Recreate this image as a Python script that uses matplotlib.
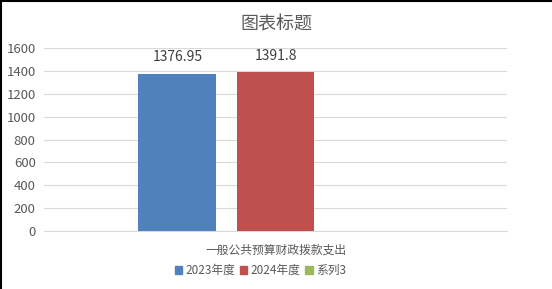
import matplotlib
matplotlib.use("Agg")
from matplotlib import pyplot as plt
from matplotlib.lines import Line2D
import numpy as np

plt.rcParams['font.family'] = ['Noto Sans CJK SC', 'DejaVu Sans']

categories = ['一般公共预算财政拨款支出']
series_names = ['2023年度', '2024年度', '系列3']
series_values = [[1376.95], [1391.8], [0]]
series_colors = ['#4f81bd', '#c0504d', '#9bbb59']
label_texts = ['1376.95', '1391.8', None]

grey = '#595959'

fig = plt.figure(figsize=(5.52, 2.89), dpi=100)
ax = fig.add_axes([0.0797, 0.2007, 0.8388, 0.6332])

x = np.arange(len(categories))
width = 0.168
step = width + 0.044
for i, (name, vals, col) in enumerate(zip(series_names, series_values, series_colors)):
    pos = x + (i - 1) * step
    ax.bar(pos, vals, width, color=col, label=name, zorder=3)
    if label_texts[i]:
        for p, v in zip(pos, vals):
            ax.annotate(label_texts[i], (p, v), xytext=(0, 6.5), textcoords='offset points',
                        ha='center', va='bottom', fontsize=10, color='#404040')

ax.set_xlim(-0.5, 0.5)
ax.set_ylim(0, 1600)
ax.set_yticks(range(0, 1601, 200))
ax.set_xticks(x)
ax.set_xticklabels(categories, color=grey, fontsize=8.5)
ax.tick_params(axis='y', colors=grey, labelsize=9.5, length=0, pad=6)
ax.tick_params(axis='x', length=0, pad=9)
ax.grid(axis='y', color='#d9d9d9', linewidth=0.8, zorder=0)
for s in ['top', 'right', 'left']:
    ax.spines[s].set_visible(False)
ax.spines['bottom'].set_color('#d9d9d9')

fig.suptitle('图表标题', y=0.945, fontsize=13, color=grey)

handles = [plt.Rectangle((0, 0), 1, 1, color=c) for c in series_colors]
fig.legend(handles, series_names, loc='center', bbox_to_anchor=(0.472, 0.064), ncol=3,
           frameon=False, fontsize=8.5, labelcolor=grey, handlelength=0.6, handleheight=0.6,
           handletextpad=0.3, columnspacing=0.4)

# frame edges on top and left
fig.add_artist(Line2D([0, 1], [0.998, 0.998], color='black', linewidth=1.5, transform=fig.transFigure))
fig.add_artist(Line2D([0.002, 0.002], [0, 1], color='black', linewidth=1.5, transform=fig.transFigure))

fig.savefig('out.png', dpi=100)
